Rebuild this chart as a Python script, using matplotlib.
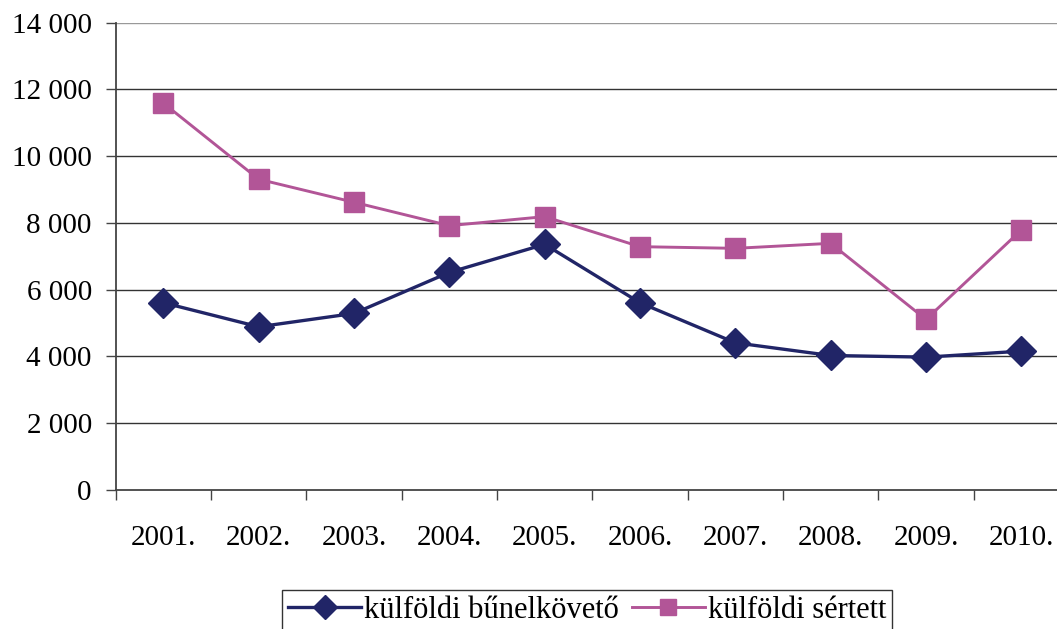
import matplotlib
matplotlib.use("Agg")
import matplotlib.pyplot as plt
import numpy as np

years = ["2001.", "2002.", "2003.", "2004.", "2005.", "2006.", "2007.", "2008.", "2009.", "2010."]
bunelkoveto = [5610, 4890, 5290, 6520, 7360, 5610, 4410, 4030, 3980, 4160]
sertett = [11590, 9310, 8620, 7920, 8190, 7290, 7240, 7390, 5110, 7790]
yticks = [0, 2000, 4000, 6000, 8000, 10000, 12000, 14000]
ytick_labels = ["0", "2 000", "4 000", "6 000", "8 000", "10 000", "12 000", "14 000"]

navy = "#212567"
magenta = "#B25597"

plt.rcParams['font.family'] = ['Liberation Serif', 'DejaVu Serif']

W, H = 1057, 629
fig = plt.figure(figsize=(W / 100, H / 100), dpi=100)
left_px, right_px, top_px, bot_px = 115.7, 1069.0, 22.7, 490.0
ax = fig.add_axes([left_px / W, 1 - bot_px / H, (right_px - left_px) / W, (bot_px - top_px) / H])

x = np.arange(len(years))
ax.plot(x, bunelkoveto, color=navy, lw=2.4, marker='D', ms=15, mfc=navy, mec=navy,
        label="külföldi bűnelkövető", zorder=4, clip_on=False)
ax.plot(x, sertett, color=magenta, lw=2.1, marker='s', ms=14.5, mfc=magenta, mec=magenta,
        label="külföldi sértett", zorder=3, clip_on=False)

ax.set_xlim(-0.5, len(years) - 0.5)
ax.set_ylim(0, 14000)

ax.set_yticks(yticks)
ax.set_yticklabels(ytick_labels)
ax.set_xticks(x)
ax.set_xticklabels(years)
ax.set_xticks(np.arange(-0.5, len(years), 1.0), minor=True)

ax.tick_params(axis='y', direction='out', length=7.2, width=1.0, color='#444444',
               labelsize=21, pad=10)
ax.tick_params(axis='x', which='major', length=0, labelsize=21, pad=25)
ax.tick_params(axis='x', which='minor', direction='out', length=7.2, width=1.0, color='#444444')

for yv in yticks[1:]:
    ax.axhline(yv, color='#999999' if yv == 14000 else '#333333', lw=1.0, zorder=1)

for s in ['top', 'right']:
    ax.spines[s].set_visible(False)
for s in ['left', 'bottom']:
    ax.spines[s].set_color('#444444')
    ax.spines[s].set_linewidth(1.3)

leg = fig.legend(loc='upper left', bbox_to_anchor=(282 / W, 1 - 590 / H), ncol=2,
                 fontsize=22, frameon=True, fancybox=False, edgecolor='black',
                 handlelength=2.4, handletextpad=0.1, columnspacing=0.4,
                 borderpad=0.2, borderaxespad=0)
leg.get_frame().set_linewidth(1.0)
for h in leg.legend_handles:
    h.set_markersize(12)

fig.savefig("out.png", dpi=100, facecolor='white')
